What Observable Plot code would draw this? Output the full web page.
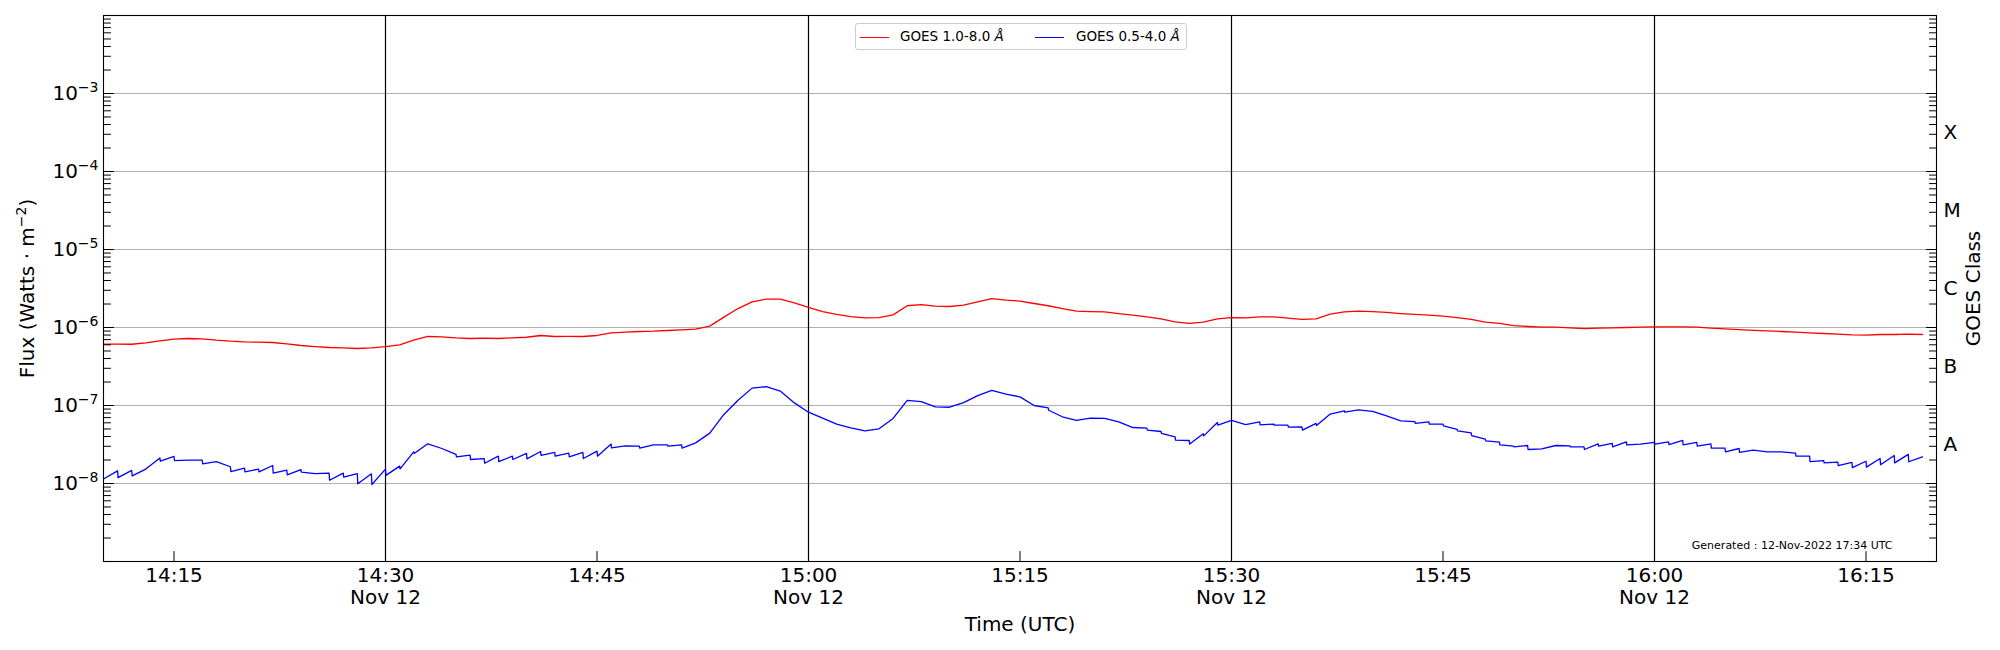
<!DOCTYPE html>
<html><head><meta charset="utf-8">
<script src="https://cdn.jsdelivr.net/npm/d3@7"></script>
<script src="https://cdn.jsdelivr.net/npm/@observablehq/plot@0.6"></script>
<style>
body{margin:0;background:#fff;font-family:"DejaVu Sans",sans-serif;}
#wrap{position:relative;width:2000px;height:650px;}
#legend{position:absolute;left:855px;top:23px;width:330px;height:25px;border:1px solid #cccccc;border-radius:3px;background:rgba(255,255,255,0.8);font-size:13.5px;font-family:"DejaVu Sans",sans-serif;color:#000;}
.item{position:absolute;top:0;height:25px;line-height:25px;white-space:nowrap;}
.sw{position:absolute;top:13px;width:29px;height:0;border-top:1.4px solid;}
</style></head><body><div id="wrap"></div>
<script>
// ---- data (one sample per minute starting 2022-11-12 14:10 UTC) ----
const startTime = "2022-11-12T14:10:00Z";
const seriesNames = ["GOES 1.0-8.0 Å", "GOES 0.5-4.0 Å"];
const seriesColors = ["#ff0000", "#0000ff"];

// GOES 1.0-8.0 Å (W/m^2), per minute
const xrsLong = [
 6.11e-7,6.11e-7,6.10e-7,6.36e-7,6.75e-7,7.09e-7,7.23e-7,7.16e-7,6.88e-7,6.68e-7,
 6.55e-7,6.49e-7,6.42e-7,6.17e-7,5.88e-7,5.70e-7,5.54e-7,5.49e-7,5.38e-7,5.49e-7,
 5.70e-7,6.00e-7,6.88e-7,7.67e-7,7.59e-7,7.37e-7,7.23e-7,7.30e-7,7.23e-7,7.37e-7,
 7.50e-7,7.90e-7,7.67e-7,7.70e-7,7.67e-7,7.90e-7,8.54e-7,8.72e-7,8.89e-7,8.97e-7,
 9.15e-7,9.33e-7,9.52e-7,1.04e-6,1.36e-6,1.75e-6,2.13e-6,2.31e-6,2.31e-6,2.07e-6,
 1.81e-6,1.60e-6,1.47e-6,1.38e-6,1.33e-6,1.34e-6,1.45e-6,1.90e-6,1.97e-6,1.88e-6,
 1.86e-6,1.93e-6,2.13e-6,2.35e-6,2.24e-6,2.18e-6,2.03e-6,1.90e-6,1.75e-6,1.62e-6,
 1.60e-6,1.59e-6,1.51e-6,1.44e-6,1.37e-6,1.29e-6,1.18e-6,1.13e-6,1.17e-6,1.29e-6,
 1.34e-6,1.33e-6,1.37e-6,1.37e-6,1.32e-6,1.27e-6,1.29e-6,1.48e-6,1.59e-6,1.62e-6,
 1.60e-6,1.56e-6,1.51e-6,1.47e-6,1.44e-6,1.40e-6,1.34e-6,1.27e-6,1.17e-6,1.13e-6,
 1.06e-6,1.03e-6,1.01e-6,1.01e-6,9.9e-7,9.7e-7,9.8e-7,9.9e-7,1.00e-6,1.01e-6,
 1.02e-6,1.02e-6,1.02e-6,1.01e-6,9.8e-7,9.6e-7,9.4e-7,9.2e-7,9.06e-7,8.89e-7,
 8.72e-7,8.54e-7,8.38e-7,8.21e-7,8.05e-7,7.97e-7,8.13e-7,8.13e-7,8.21e-7,8.13e-7
];

// GOES 0.5-4.0 Å: value at each minute mark (top of each saw tooth)
const xrsShortTop = [
 1.14e-8,1.45e-8,1.47e-8,1.53e-8,2.13e-8,2.22e-8,1.99e-8,1.99e-8,1.91e-8,1.64e-8,
 1.57e-8,1.53e-8,1.70e-8,1.48e-8,1.51e-8,1.34e-8,1.36e-8,1.36e-8,1.34e-8,1.33e-8,
 1.53e-8,1.67e-8,2.55e-8,3.23e-8,2.81e-8,2.36e-8,2.31e-8,2.09e-8,2.24e-8,2.24e-8,
 2.43e-8,2.57e-8,2.50e-8,2.45e-8,2.50e-8,2.60e-8,3.20e-8,3.04e-8,3.01e-8,3.13e-8,
 3.13e-8,3.13e-8,3.32e-8,4.42e-8,7.68e-8,1.17e-7,1.67e-7,1.74e-7,1.53e-7,1.08e-7,
 8.2e-8,6.88e-8,5.77e-8,5.17e-8,4.73e-8,5.02e-8,6.83e-8,1.16e-7,1.12e-7,9.6e-8,
 9.5e-8,1.09e-7,1.34e-7,1.56e-7,1.40e-7,1.29e-7,1.00e-7,9.3e-8,7.17e-8,6.43e-8,
 6.9e-8,6.83e-8,6.17e-8,5.22e-8,5.12e-8,4.64e-8,3.97e-8,3.56e-8,4.34e-8,6.05e-8,
 6.43e-8,5.70e-8,6.17e-8,5.77e-8,5.60e-8,5.32e-8,5.89e-8,7.76e-8,8.56e-8,8.8e-8,
 8.4e-8,7.37e-8,6.36e-8,6.23e-8,6.17e-8,5.77e-8,4.93e-8,4.46e-8,3.70e-8,3.39e-8,
 3.01e-8,3.07e-8,2.78e-8,3.07e-8,3.04e-8,2.95e-8,3.23e-8,3.26e-8,3.42e-8,3.20e-8,
 3.36e-8,3.42e-8,3.56e-8,3.36e-8,3.23e-8,2.84e-8,2.81e-8,2.68e-8,2.55e-8,2.55e-8,
 2.45e-8,2.24e-8,1.97e-8,1.88e-8,1.86e-8,1.93e-8,2.09e-8,2.29e-8,2.36e-8,2.20e-8
];
// GOES 0.5-4.0 Å: value just after the drop at each minute mark (null = no drop)
const xrsShortBottom = [
 null,1.19e-8,1.25e-8,null,1.93e-8,1.97e-8,null,1.79e-8,null,1.42e-8,
 1.41e-8,1.41e-8,1.36e-8,1.29e-8,1.40e-8,null,1.10e-8,1.21e-8,0.99e-8,0.97e-8,
 1.27e-8,1.54e-8,2.43e-8,null,null,2.20e-8,2.03e-8,1.82e-8,1.91e-8,2.03e-8,
 2.07e-8,2.29e-8,2.24e-8,2.20e-8,2.09e-8,2.24e-8,2.86e-8,null,2.84e-8,null,
 3.01e-8,2.84e-8,null,null,null,null,null,null,null,null,
 null,null,null,null,null,null,null,null,null,null,
 null,null,null,null,null,null,null,8.7e-8,null,null,
 null,null,null,null,4.84e-8,4.38e-8,3.60e-8,3.20e-8,4.08e-8,5.60e-8,
 null,null,5.65e-8,5.60e-8,5.27e-8,4.84e-8,5.54e-8,null,8.2e-8,null,
 null,null,null,5.89e-8,5.77e-8,5.49e-8,4.73e-8,4.12e-8,3.52e-8,3.13e-8,
 2.95e-8,2.73e-8,null,null,2.95e-8,2.73e-8,3.01e-8,2.95e-8,3.13e-8,null,
 3.20e-8,3.16e-8,3.13e-8,3.01e-8,2.84e-8,2.55e-8,2.50e-8,null,null,null,
 2.24e-8,1.91e-8,1.84e-8,1.70e-8,1.60e-8,1.62e-8,1.74e-8,1.84e-8,1.90e-8,null
];

// axes
const timeDomain = ["14:10", "16:20"];
const timeTicks = ["14:15","14:30","14:45","15:00","15:15","15:30","15:45","16:00","16:15"];
const dayRules = ["14:30","15:00","15:30","16:00"];
const dayLabel = "Nov 12";
const fluxDomain = [1e-9, 1e-2];
const decadeTicks = [1e-9,1e-8,1e-7,1e-6,1e-5,1e-4,1e-3,1e-2];
const labelledDecades = [1e-8,1e-7,1e-6,1e-5,1e-4,1e-3];
const minorMultipliers = [2,3,4,5,6,7,8,9];
const classLabels = ["A","B","C","M","X"];
const classCenters = [3.162e-8,3.162e-7,3.162e-6,3.162e-5,3.162e-4];
const yTitle = "Flux (Watts · m^−2)";
const y2Title = "GOES Class";
const xTitle = "Time (UTC)";
const generatedText = "Generated : 12-Nov-2022 17:34 UTC";

// ---- build ----
const t0 = new Date(startTime).getTime();
const MIN = 60000;
const hm = s => { const [h,m] = s.split(":").map(Number); return new Date(Date.UTC(2022,10,12,h,m)); };

const longData = xrsLong.map((v,i) => ({time: new Date(t0 + i*MIN), flux: v}));
const shortData = [];
xrsShortTop.forEach((v,i) => {
  shortData.push({time: new Date(t0 + i*MIN), flux: v});
  const b = xrsShortBottom[i];
  if (b != null) shortData.push({time: new Date(t0 + i*MIN + 2000), flux: b});
});
const classData = classLabels.map((l,i) => ({label: l, flux: classCenters[i]}));

const minorTicks = [];
decadeTicks.slice(0,-1).forEach(d => minorMultipliers.forEach(m => minorTicks.push(m*d)));

const fmtPow = d => "10^" + String(Math.round(Math.log10(d))).replace("-", "−");
const fmtTime = d => {
  const s = d3.utcFormat("%H:%M")(d);
  return d.getUTCMinutes() % 30 === 0 ? s + "\n" + dayLabel : s;
};
const tickLine = {draw(ctx, l){ ctx.moveTo(0,0); ctx.lineTo(0,-l); }};
const tickOpts = {anchor:"start", shape: tickLine, stroke:"black", strokeWidth:1};

const chart = Plot.plot({
  width: 2000, height: 650,
  marginLeft: 103, marginRight: 64, marginTop: 15, marginBottom: 89,
  style: {fontFamily: "DejaVu Sans, sans-serif", fontSize: "20px", background: "white", color: "black"},
  x: {type: "utc", domain: timeDomain.map(hm), axis: null},
  y: {type: "log", domain: fluxDomain, axis: null},
  marks: [
    Plot.ruleY(labelledDecades, {stroke: "#b0b0b0", strokeWidth: 1}),
    Plot.ruleX(dayRules.map(hm), {stroke: "black", strokeWidth: 1.2}),
    Plot.line(longData, {x: "time", y: "flux", stroke: seriesColors[0], strokeWidth: 1.3, clip: true}),
    Plot.line(shortData, {x: "time", y: "flux", stroke: seriesColors[1], strokeWidth: 1.3, clip: true}),
    // inside ticks
    Plot.vectorY(decadeTicks, {frameAnchor: "left", rotate: 90, length: 10, ...tickOpts}),
    Plot.vectorY(minorTicks, {frameAnchor: "left", rotate: 90, length: 7, ...tickOpts}),
    Plot.vectorY(decadeTicks, {frameAnchor: "right", rotate: -90, length: 10, ...tickOpts}),
    Plot.vectorY(minorTicks, {frameAnchor: "right", rotate: -90, length: 7, ...tickOpts}),
    Plot.vectorX(timeTicks.map(hm), {frameAnchor: "bottom", rotate: 0, length: 10, ...tickOpts}),
    Plot.frame({stroke: "black", strokeWidth: 1.1}),
    // tick labels
    Plot.text(labelledDecades, {y: d => d, text: fmtPow, frameAnchor: "left", dx: -5, fontSize: 20, textAnchor: "end", lineAnchor: "middle"}),
    Plot.text(classData, {y: "flux", text: "label", frameAnchor: "right", dx: 7, fontSize: 20, textAnchor: "start", lineAnchor: "middle"}),
    Plot.axisX(timeTicks.map(hm), {anchor: "bottom", tickSize: 0, tickPadding: 5, tickFormat: fmtTime, fontSize: 20, label: null, lineHeight: 1.1}),
    // axis titles
    Plot.text([yTitle], {text: d => d, frameAnchor: "left", dx: -76, rotate: -90, fontSize: 20, textAnchor: "middle", lineAnchor: "middle"}),
    Plot.text([y2Title], {text: d => d, frameAnchor: "right", dx: 37, rotate: -90, fontSize: 20, textAnchor: "middle", lineAnchor: "middle"}),
    Plot.text([xTitle], {text: d => d, frameAnchor: "bottom", dy: 63, fontSize: 20, textAnchor: "middle", lineAnchor: "middle"}),
    Plot.text([generatedText], {text: d => d, frameAnchor: "bottom-right", dx: -44, dy: -16, fontSize: 11, textAnchor: "end", lineAnchor: "middle"})
  ]
});

// render "a^b" as a real superscript (like matplotlib mathtext)
d3.select(chart).selectAll("text").each(function() {
  if (this.children.length) return;
  const s = this.textContent;
  const m = s.match(/^(.*?)\^(−?\d+)(.*)$/);
  if (!m) return;
  const el = d3.select(this);
  el.text(m[1]);
  el.append("tspan").attr("dy", "-8").attr("font-size", "14").text(m[2]);
  if (m[3]) el.append("tspan").attr("dy", "8").text(m[3]);
});

const wrap = document.getElementById("wrap");
wrap.appendChild(chart);

// legend
const legend = document.createElement("div");
legend.id = "legend";
const positions = [[4, 44], [179, 220]];
seriesNames.forEach((name, i) => {
  const sw = document.createElement("div");
  sw.className = "sw";
  sw.style.left = positions[i][0] + "px";
  sw.style.borderTopColor = seriesColors[i];
  legend.appendChild(sw);
  const it = document.createElement("div");
  it.className = "item";
  it.style.left = positions[i][1] + "px";
  it.appendChild(document.createTextNode(name.replace(" Å", " ")));
  const a = document.createElement("i");
  a.textContent = "Å";
  it.appendChild(a);
  legend.appendChild(it);
});
wrap.appendChild(legend);
</script>
</body></html>
